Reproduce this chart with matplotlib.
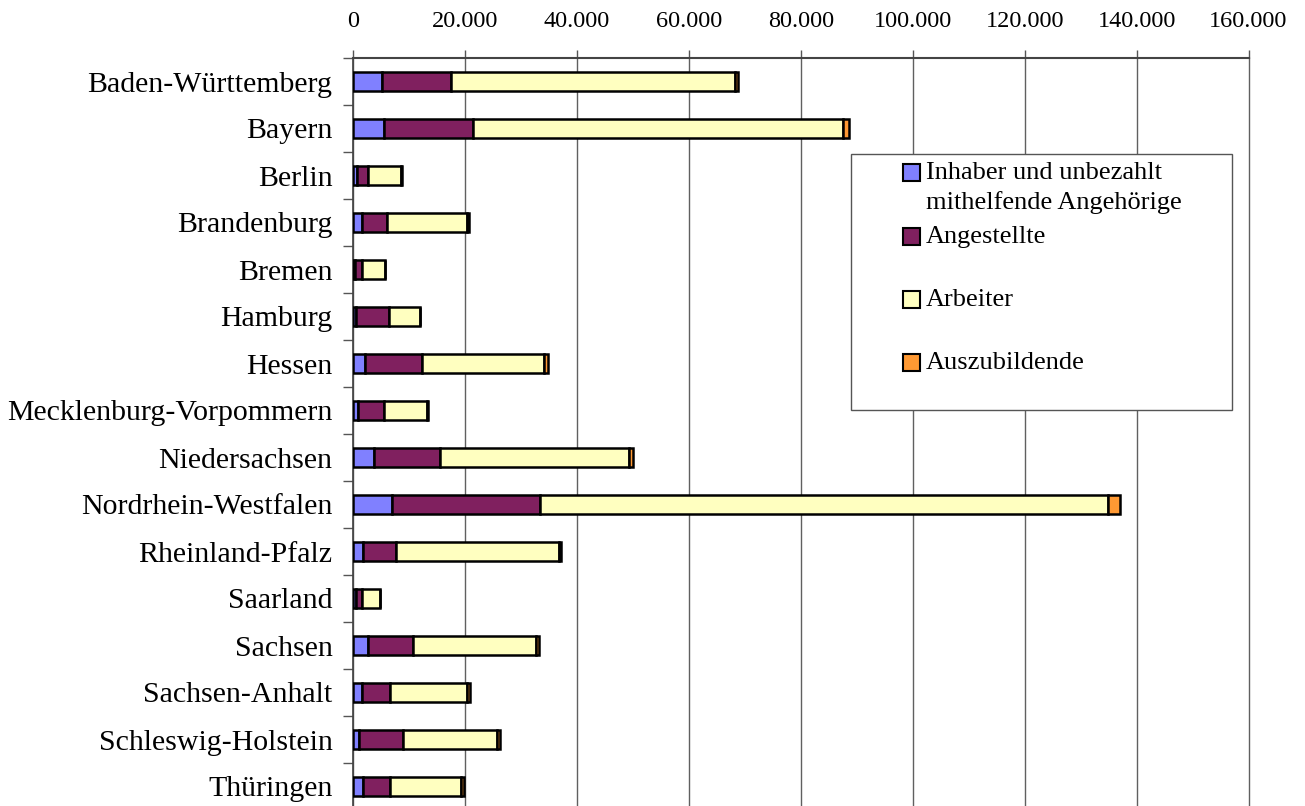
import matplotlib
matplotlib.use("Agg")
import matplotlib.pyplot as plt
from matplotlib.patches import Rectangle
from matplotlib.ticker import FuncFormatter, FixedLocator

plt.rcParams['font.family'] = ['Liberation Serif', 'DejaVu Serif']

laender = ["Baden-Württemberg", "Bayern", "Berlin", "Brandenburg", "Bremen", "Hamburg",
           "Hessen", "Mecklenburg-Vorpommern", "Niedersachsen", "Nordrhein-Westfalen",
           "Rheinland-Pfalz", "Saarland", "Sachsen", "Sachsen-Anhalt",
           "Schleswig-Holstein", "Thüringen"]
inhaber = [5200, 5500, 600, 1550, 300, 500, 2100, 900, 3750, 6850, 1800, 500, 2600, 1500, 1000, 1800]
angestellte = [12200, 15900, 2100, 4400, 1300, 5900, 10200, 4600, 11800, 26500, 5900, 1050, 8100, 5100, 7900, 4800]
arbeiter = [50900, 66100, 5900, 14300, 4050, 5500, 21800, 7700, 33800, 101500, 29000, 3200, 21900, 13800, 16800, 12600]
azubi = [400, 1100, 100, 350, 100, 100, 700, 100, 700, 2200, 400, 100, 600, 400, 450, 600]
serien = ["Inhaber und unbezahlt\nmithelfende Angehörige", "Angestellte", "Arbeiter", "Auszubildende"]
xticks = [0, 20000, 40000, 60000, 80000, 100000, 120000, 140000, 160000]

colors = ['#8080FF', '#80205F', '#FFFFC0', '#FF9933']

W, H = 1305, 806
fig = plt.figure(figsize=(W / 100, H / 100), dpi=100)
ax = fig.add_axes([353.3 / W, -4 / H, 895.2 / W, 752 / H])

ypos = list(range(len(laender)))
left = [0] * len(laender)
for vals, c, lab in zip([inhaber, angestellte, arbeiter, azubi], colors, serien):
    ax.barh(ypos, vals, left=left, height=0.41, color=c, edgecolor='black',
            linewidth=1.8, label=lab, zorder=3)
    left = [l + v for l, v in zip(left, vals)]

ax.set_xlim(0, 160000)
ax.set_ylim(15.5, -0.5)
ax.xaxis.set_major_locator(FixedLocator(xticks))
ax.xaxis.set_major_formatter(FuncFormatter(lambda v, p: f"{int(v):,}".replace(",", ".")))
ax.xaxis.tick_top()
ax.tick_params(axis='x', direction='out', length=6, width=1, color='#555555',
               labelsize=17.5, pad=13)
ax.grid(axis='x', color='#606060', linewidth=1, zorder=0)
for gl in ax.get_xgridlines():
    gl.set_clip_on(False)

ax.set_yticks(ypos)
ax.set_yticklabels(laender)
ax.tick_params(axis='y', which='major', length=0, labelsize=21.5, pad=15)
ax.set_yticks([i - 0.5 for i in range(len(laender) + 1)], minor=True)
ax.tick_params(axis='y', which='minor', direction='out', length=7, width=1, color='#555555')

for s in ['right', 'bottom']:
    ax.spines[s].set_visible(False)
ax.spines['top'].set_color('#444444')
ax.spines['top'].set_linewidth(1.5)
ax.spines['left'].set_color('#444444')
ax.spines['left'].set_linewidth(1.2)

# legend drawn manually (Excel style)
def fx(x):
    return x / W

def fy(y):
    return 1 - y / H

fig.add_artist(Rectangle((fx(851), fy(410)), fx(1232) - fx(851), fy(154) - fy(410),
                         transform=fig.transFigure, facecolor='white',
                         edgecolor='#555555', linewidth=1, zorder=5))
entries = [(173, ["Inhaber und unbezahlt", "mithelfende Angehörige"]),
           (237, ["Angestellte"]),
           (300, ["Arbeiter"]),
           (363, ["Auszubildende"])]
for (yc, lines), c in zip(entries, colors):
    fig.add_artist(Rectangle((fx(903), fy(yc + 8)), fx(17), 17 / H,
                             transform=fig.transFigure, facecolor=c,
                             edgecolor='black', linewidth=1.5, zorder=6))
    for k, line in enumerate(lines):
        fig.text(fx(926), fy(yc + 30 * k), line, fontsize=19, va='center', ha='left',
                 zorder=7)

fig.savefig("out.png", dpi=100)
